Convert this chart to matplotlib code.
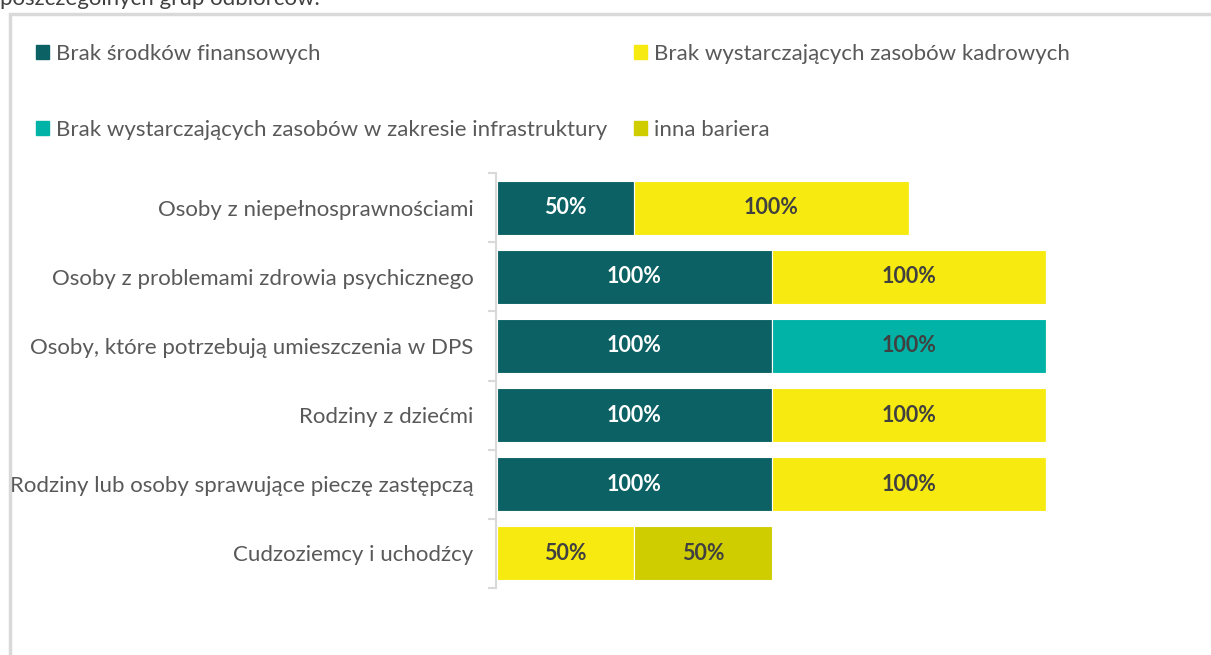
# Bariery w realizacji wsparcia dla poszczególnych grup odbiorców - skumulowany wykres słupkowy
import matplotlib.pyplot as plt
from matplotlib.patches import Rectangle, Patch
import numpy as np

plt.rcParams['font.family'] = ['Lato', 'DejaVu Sans']

kategorie = [
    'Osoby z niepełnosprawnościami',
    'Osoby z problemami zdrowia psychicznego',
    'Osoby, które potrzebują umieszczenia w DPS',
    'Rodziny z dziećmi',
    'Rodziny lub osoby sprawujące pieczę zastępczą',
    'Cudzoziemcy i uchodźcy',
]
serie = [
    'Brak środków finansowych',
    'Brak wystarczających zasobów kadrowych',
    'Brak wystarczających zasobów w zakresie infrastruktury',
    'inna bariera',
]
finanse = [50, 100, 100, 100, 100, 0]
kadry = [100, 100, 0, 100, 100, 50]
infrastruktura = [0, 0, 100, 0, 0, 0]
inna = [0, 0, 0, 0, 0, 50]

kolory = ['#0b6163', '#f7ea10', '#00b3a6', '#cfcd00']
kolor_etykiet = ['white', '#404040', '#404040', '#404040']
szary = '#595959'
FS = 16

W, H = 1211, 655
fig = plt.figure(figsize=(W / 100, H / 100), dpi=100)

# ramka wokół wykresu
fig.patches.append(Rectangle((10 / W, -0.05), 1.1, 1 - 14 / H + 0.05, transform=fig.transFigure,
                             fill=False, edgecolor='#d9d9d9', linewidth=2.5))
# obcięty fragment tekstu nad wykresem
fig.text(0, 1 - 5 / H, 'poszczególnych grup odbiorców.', fontsize=FS, color='#404040',
         ha='left', va='baseline')

ax = fig.add_axes([497 / W, 1 - 588 / H, 549 / W, (588 - 173) / H])
y = np.arange(len(kategorie))
lewo = np.zeros(len(kategorie))
for dane, nazwa, kol, kol_txt in zip([finanse, kadry, infrastruktura, inna], serie, kolory, kolor_etykiet):
    dane = np.array(dane, dtype=float)
    ax.barh(y, dane, left=lewo, height=0.78, color=kol, edgecolor='white', linewidth=0.8, label=nazwa)
    for yi, (l, v) in enumerate(zip(lewo, dane)):
        if v > 0:
            ax.text(l + v / 2, yi, f'{v:.0f}%', ha='center', va='center', fontsize=15.5,
                    fontweight='bold', color=kol_txt)
    lewo += dane

ax.set_xlim(0, 200)
ax.set_ylim(len(kategorie) - 0.5, -0.5)
ax.set_yticks(y)
ax.set_yticklabels(kategorie)
ax.set_yticks(np.arange(-0.5, len(kategorie)), minor=True)
ax.tick_params(axis='y', which='major', length=0, pad=16, labelsize=FS, labelcolor=szary)
ax.tick_params(axis='y', which='minor', length=6, width=1.5, color='#d9d9d9', direction='out')
ax.set_xticks([])
for s in ['top', 'right', 'bottom']:
    ax.spines[s].set_visible(False)
ax.spines['left'].set_color('#d9d9d9')
ax.spines['left'].set_linewidth(1.5)
ax.spines['left'].set_position(('outward', 1))

uchwyty = [Patch(color=k) for k in kolory]
kolejnosc = [0, 2, 1, 3]
leg = fig.legend([uchwyty[i] for i in kolejnosc], [serie[i] for i in kolejnosc],
                 loc='upper left', bbox_to_anchor=(36 / W, 1 - 44 / H), ncol=2, frameon=False,
                 fontsize=FS, handlelength=0.6, handleheight=0.6, handletextpad=0.3,
                 labelspacing=2.5, columnspacing=1.2, borderpad=0, borderaxespad=0)
for t in leg.get_texts():
    t.set_color(szary)

fig.savefig('out.png', dpi=100)
